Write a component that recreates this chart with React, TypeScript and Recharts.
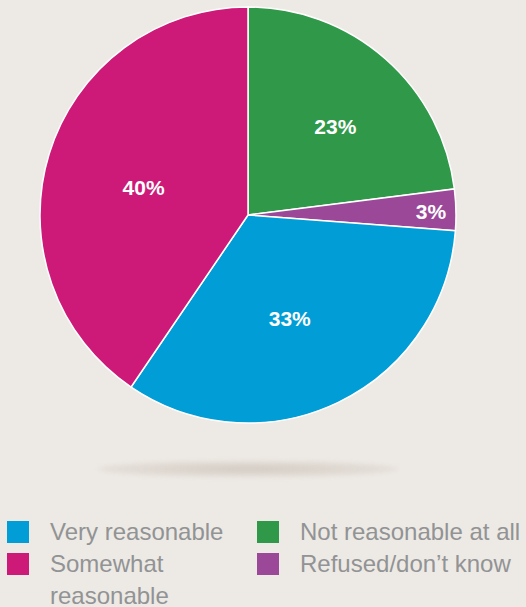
import { Cell, Legend, Pie, PieChart } from "recharts";

const categories = ["Not reasonable at all", "Refused/don\u2019t know", "Very reasonable", "Somewhat reasonable"];
const shares = [23.0, 3.2, 33.3, 40.5];
const labels = ["23%", "3%", "33%", "40%"];
const colors = ["#2f9849", "#9c4899", "#009dd6", "#cd1a78"];
const legendOrder = ["Very reasonable", "Not reasonable at all", "Somewhat reasonable", "Refused/don\u2019t know"];

const data = categories.map((name, i) => ({ name, value: shares[i], label: labels[i] }));

const RAD = Math.PI / 180;

// label placement tweaks per slice: radius fraction and angle nudge
const labelRadius = [0.6, 0.88, 0.53, 0.52];
const labelNudge = [-3, 0, -3.5, 2];

function renderLabel(props: any) {
  const { cx, cy, midAngle, outerRadius, index } = props;
  const r = outerRadius * labelRadius[index];
  const a = midAngle + labelNudge[index];
  const x = cx + r * Math.cos(-a * RAD);
  const y = cy + r * Math.sin(-a * RAD) + 1;
  return (
    <text
      x={x}
      y={y}
      fill="#ffffff"
      textAnchor="middle"
      dominantBaseline="central"
      fontFamily="Liberation Sans, Arial, sans-serif"
      fontWeight="bold"
      fontSize={21}
    >
      {data[index].label}
    </text>
  );
}

function LegendBox() {
  return (
    <div
      style={{
        position: "absolute",
        left: 7,
        top: 516,
        display: "grid",
        gridTemplateColumns: "250px 268px",
        rowGap: 0,
        fontFamily: "Liberation Sans, Arial, sans-serif",
        fontSize: 24,
        lineHeight: "32px",
        color: "#919395",
      }}
    >
      {legendOrder.map((name) => {
        const i = categories.indexOf(name);
        return (
          <div key={name} style={{ display: "flex", alignItems: "flex-start" }}>
            <span
              style={{
                width: 22,
                height: 22,
                marginTop: 5,
                background: colors[i],
                flex: "0 0 auto",
              }}
            />
            <span style={{ marginLeft: 21, whiteSpace: "nowrap" }}>
              {name === "Somewhat reasonable" ? (
                <>
                  Somewhat
                  <br />
                  reasonable
                </>
              ) : (
                name
              )}
            </span>
          </div>
        );
      })}
    </div>
  );
}

export default function App() {
  return (
    <div
      style={{
        position: "absolute",
        left: 0,
        top: 0,
        width: 526,
        height: 607,
        background: "#ede9e4",
        overflow: "hidden",
      }}
    >
      <div
        style={{
          position: "absolute",
          left: 98,
          top: 461,
          width: 300,
          height: 16,
          borderRadius: "50%",
          background:
            "radial-gradient(ellipse at center, rgba(190,178,168,0.55) 0%, rgba(200,190,180,0.35) 50%, rgba(237,233,228,0) 100%)",
          filter: "blur(2px)",
        }}
      />
      <PieChart
        width={526}
        height={607}
        margin={{ top: 0, right: 0, bottom: 0, left: 0 }}
        style={{ position: "absolute", left: 0, top: 0 }}
      >
        <Pie
          data={data}
          dataKey="value"
          nameKey="name"
          cx={248}
          cy={215}
          outerRadius={208}
          startAngle={90}
          endAngle={-270}
          stroke="#ffffff"
          strokeWidth={1.5}
          label={renderLabel}
          labelLine={false}
          isAnimationActive={false}
        >
          {data.map((d, i) => (
            <Cell key={d.name} fill={colors[i]} />
          ))}
        </Pie>
        <Legend content={() => null} />
      </PieChart>
      <LegendBox />
    </div>
  );
}
